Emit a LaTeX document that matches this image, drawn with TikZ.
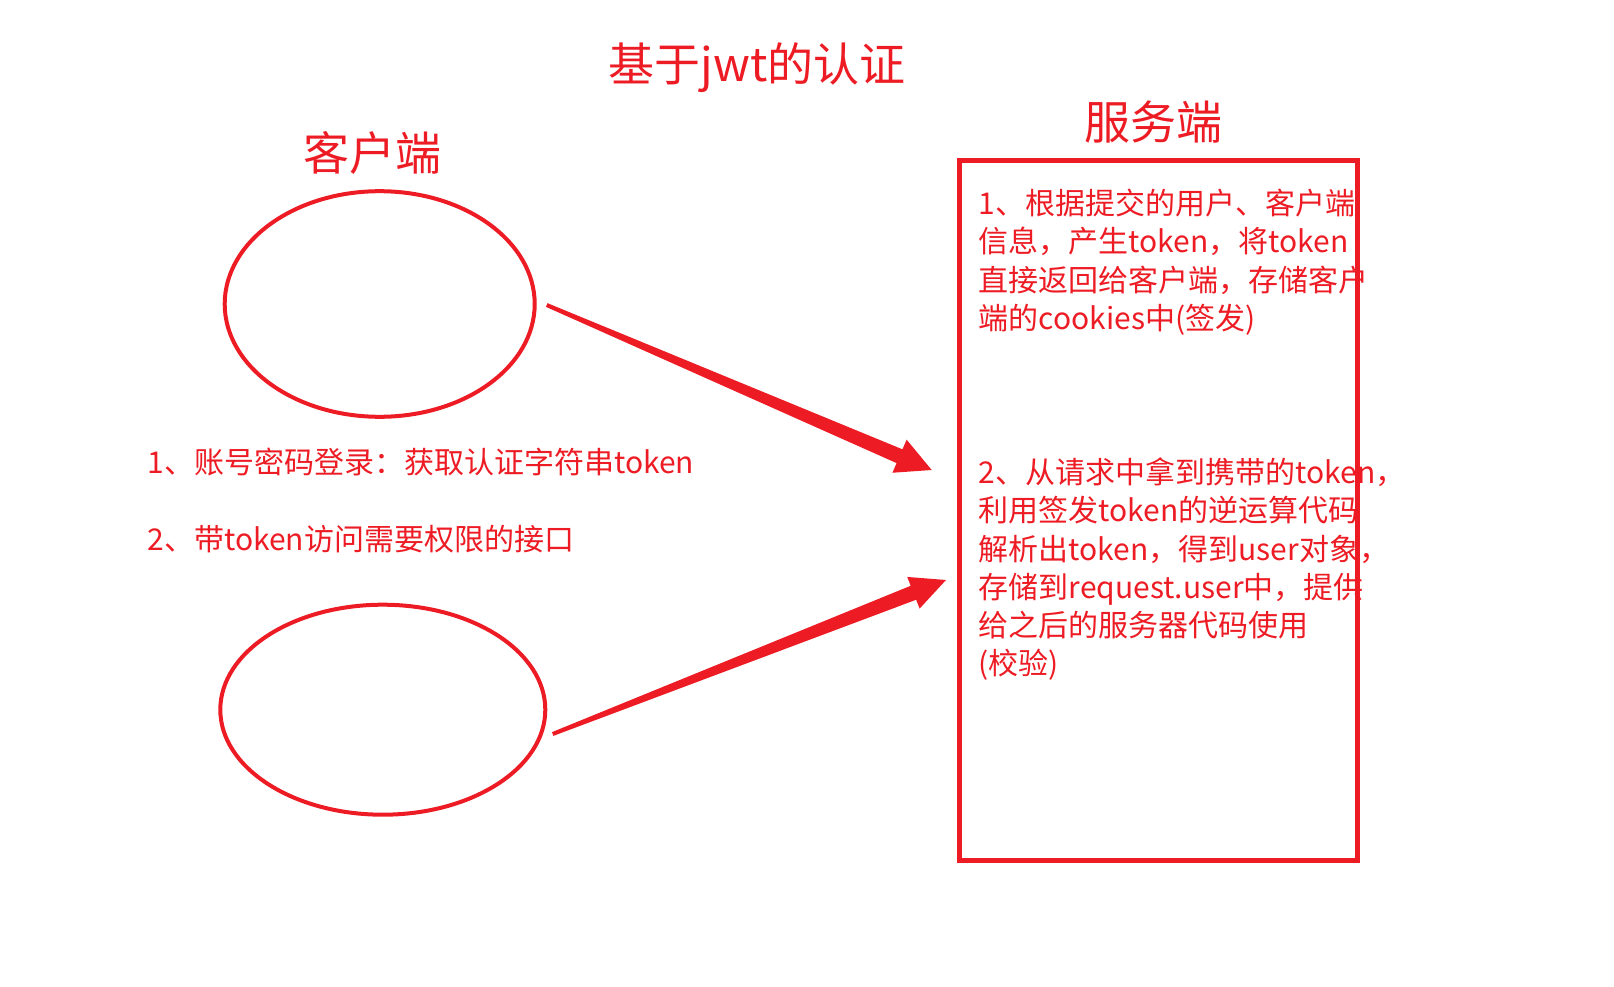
\documentclass[tikz,border=0pt]{standalone}
\usepackage{fontspec}
\setmainfont{Noto Sans CJK SC}
\usetikzlibrary{shapes.geometric,calc}
\definecolor{pred}{RGB}{237,28,36}
\begin{document}
\begin{tikzpicture}[x=1pt,y=-1pt,
  txt/.style={text=pred, inner sep=0pt, font=\fontsize{30}{38.3}\selectfont},
  bigtxt/.style={text=pred, inner sep=0pt, font=\fontsize{46}{55}\selectfont},
  oval/.style={ellipse, draw=pred, line width=4pt, inner sep=0pt},
  serverbox/.style={rectangle, draw=pred, line width=5pt, inner sep=0pt},
  arrowfill/.style={fill=pred}]
\useasboundingbox (0,0) rectangle (1614,987);

% titles
\node[bigtxt, anchor=base] (title) at (757,81.5) {基于jwt的认证};
\node[bigtxt, anchor=base] (client) at (372,171) {客户端};
\node[bigtxt, anchor=base] (server) at (1153.5,139.5) {服务端};

% client ellipses
\node[oval, minimum width=310pt, minimum height=225.6pt] (e1) at (379.7,304) {};
\node[oval, minimum width=325pt, minimum height=210pt] (e2) at (382.8,709.7) {};

% server box
\node[serverbox, minimum width=398pt, minimum height=700pt] (box) at (1158.5,510.5) {};

% left texts
\node[txt, anchor=base west] (l1) at (147.4,473.4) {1、账号密码登录：获取认证字符串token};
\node[txt, anchor=base west] (l2) at (147.4,550.4) {2、带token访问需要权限的接口};

% server texts (base anchor = last line's baseline)
\node[txt, anchor=base west, align=left] (s1) at (978.5,329.3)
  {1、根据提交的用户、客户端\\信息，产生token，将token\\直接返回给客户端，存储客户\\端的cookies中(签发)};
\node[txt, anchor=base west, align=left] (s2) at (978.5,674.9)
  {2、从请求中拿到携带的token，\\利用签发token的逆运算代码\\解析出token，得到user对象，\\存储到request.user中，提供\\给之后的服务器代码使用\\(校验)};

% arrow 1
\coordinate (t1) at ($(e1.east)+(10,1)$);
\coordinate (p1) at (931.7,470);
\coordinate (h1) at ($(p1)!35pt!(t1)$);
\fill[arrowfill] ($(t1)!2pt!90:(p1)$) -- ($(h1)!7.5pt!90:(p1)$) -- ($(h1)!18pt!90:(p1)$)
  -- (p1) -- ($(h1)!18pt!-90:(p1)$) -- ($(h1)!7.5pt!-90:(p1)$) -- ($(t1)!2pt!-90:(p1)$) -- cycle;

% arrow 2
\coordinate (t2) at ($(e2.east)+(5.4,24.3)$);
\coordinate (p2) at (946,580);
\coordinate (h2) at ($(p2)!35pt!(t2)$);
\fill[arrowfill] ($(t2)!2pt!90:(p2)$) -- ($(h2)!7.5pt!90:(p2)$) -- ($(h2)!17pt!90:(p2)$)
  -- (p2) -- ($(h2)!17pt!-90:(p2)$) -- ($(h2)!7.5pt!-90:(p2)$) -- ($(t2)!2pt!-90:(p2)$) -- cycle;
\end{tikzpicture}
\end{document}
